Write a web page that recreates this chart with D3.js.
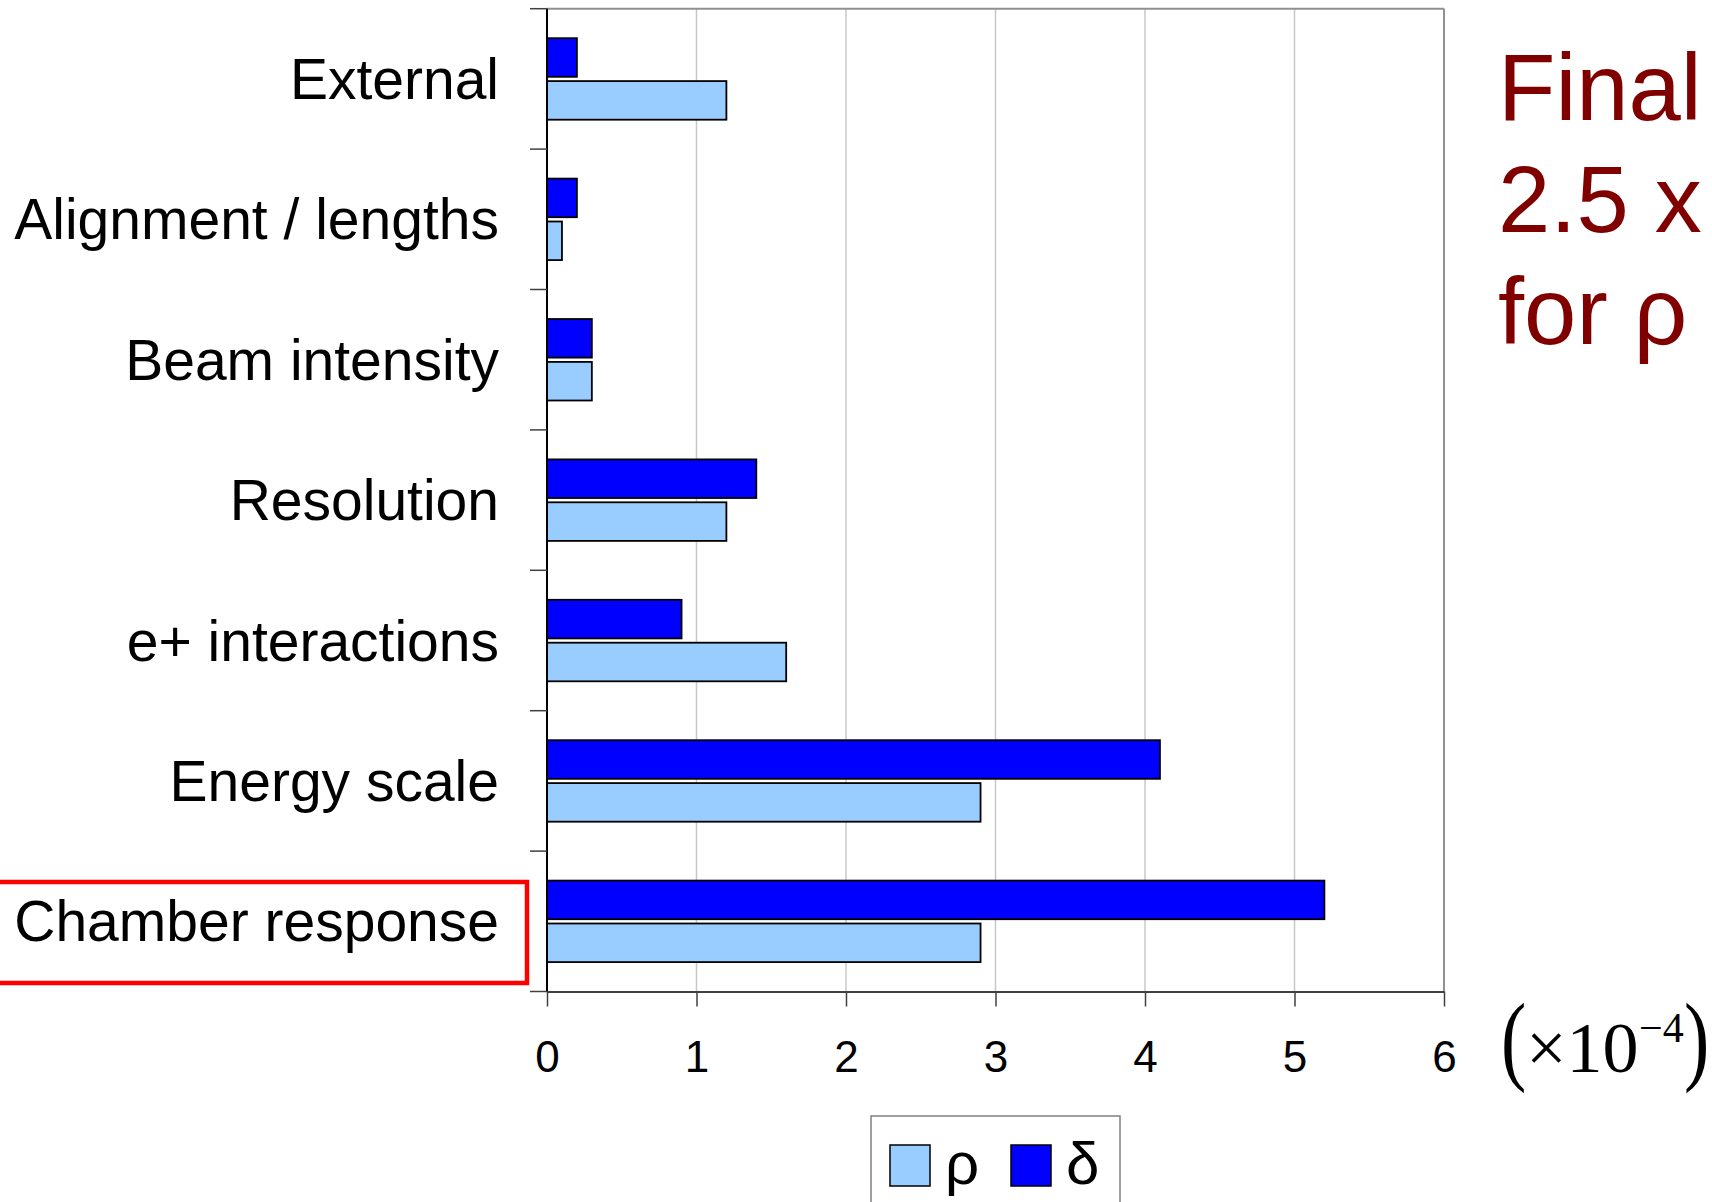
<!DOCTYPE html>
<html>
<head>
<meta charset="utf-8">
<script src="https://cdn.jsdelivr.net/npm/d3@7"></script>
<style>
  html, body { margin: 0; padding: 0; background: #fff; }
  svg { display: block; }
  text { font-family: "Liberation Sans", Arial, sans-serif; }
  text.serif { font-family: "Liberation Serif", "Times New Roman", serif; }
</style>
</head>
<body>
<svg id="chart" width="1712" height="1202"></svg>
<script>
// categories, top to bottom
const categories = ["External", "Alignment / lengths", "Beam intensity", "Resolution",
                    "e+ interactions", "Energy scale", "Chamber response"];
// systematic errors, units of 1e-4
const deltaVals = [0.2, 0.2, 0.3, 1.4, 0.9, 4.1, 5.2];
const rhoVals   = [1.2, 0.1, 0.3, 1.2, 1.6, 2.9, 2.9];
const xTicks = [0, 1, 2, 3, 4, 5, 6];
const sideNote = ["Final", "2.5 x", "for ρ"];

const svg = d3.select("#chart");

const x = d3.scaleLinear().domain([0, 6]).range([547, 1444]);
const y = d3.scaleBand().domain(categories).range([8.7, 991.5]).paddingInner(0).paddingOuter(0);
const sub = d3.scaleBand().domain(["δ", "ρ"]).range([29.5, 111]).paddingInner(0.1);

const colors = { "ρ": "#99ccff", "δ": "#0000ff" };

const rows = categories.map((c, i) => ({ cat: c, "δ": deltaVals[i], "ρ": rhoVals[i] }));

// grid lines
svg.append("g").selectAll("line")
  .data(xTicks.filter(d => d > 0 && d < 6))
  .join("line")
  .attr("x1", d => x(d)).attr("x2", d => x(d))
  .attr("y1", y.range()[0]).attr("y2", y.range()[1])
  .attr("stroke", "#c8c8c8").attr("stroke-width", 1.5);

// frame top / right
svg.append("line")
  .attr("x1", x(0)).attr("x2", x(6)).attr("y1", y.range()[0]).attr("y2", y.range()[0])
  .attr("stroke", "#909090").attr("stroke-width", 2);
svg.append("line")
  .attr("x1", x(6)).attr("x2", x(6)).attr("y1", y.range()[0]).attr("y2", y.range()[1])
  .attr("stroke", "#909090").attr("stroke-width", 2);

// bars
const groups = svg.append("g").selectAll("g")
  .data(rows)
  .join("g")
  .attr("transform", d => `translate(0,${y(d.cat)})`);

groups.selectAll("rect")
  .data(d => ["δ", "ρ"].map(k => ({ key: k, value: d[k] })))
  .join("rect")
  .attr("x", x(0))
  .attr("y", d => sub(d.key))
  .attr("width", d => x(d.value) - x(0))
  .attr("height", sub.bandwidth())
  .attr("fill", d => colors[d.key])
  .attr("stroke", "#000")
  .attr("stroke-width", 1.8);

// x axis
const xAxis = svg.append("g")
  .attr("transform", `translate(0,${y.range()[1]})`)
  .call(d3.axisBottom(x).tickValues(xTicks).tickFormat(d3.format("d"))
    .tickSize(15).tickSizeOuter(0).tickPadding(34));
xAxis.select(".domain").attr("stroke", "#404040").attr("stroke-width", 2);
xAxis.selectAll(".tick line").attr("stroke", "#404040").attr("stroke-width", 1.5);
xAxis.selectAll(".tick text")
  .attr("fill", "#000")
  .style("font-size", "44px");

// y axis line + boundary ticks
const yEdges = categories.map(c => y(c)).concat([y.range()[1]]);
svg.append("line")
  .attr("x1", x(0)).attr("x2", x(0))
  .attr("y1", y.range()[0]).attr("y2", y.range()[1])
  .attr("stroke", "#000").attr("stroke-width", 2);
svg.append("g").selectAll("line")
  .data(yEdges)
  .join("line")
  .attr("x1", x(0) - 17).attr("x2", x(0))
  .attr("y1", d => d).attr("y2", d => d)
  .attr("stroke", "#404040").attr("stroke-width", 1.5);

// category labels
svg.append("g").selectAll("text")
  .data(categories)
  .join("text")
  .attr("x", 499)
  .attr("y", d => y(d) + y.bandwidth() / 2 + 20)
  .attr("text-anchor", "end")
  .attr("font-size", 57)
  .attr("fill", "#000")
  .text(d => d);

// highlight box round the last category
svg.append("rect")
  .attr("x", -10).attr("y", 882)
  .attr("width", 537).attr("height", 101)
  .attr("fill", "none").attr("stroke", "#ff0000").attr("stroke-width", 4.5);

// axis unit (×10^-4)
const unit = svg.append("g");
unit.append("text").attr("class", "serif")
  .attr("transform", "translate(1501,1072) scale(1,1.32)")
  .attr("font-size", 76)
  .text("(");
unit.append("text").attr("class", "serif")
  .attr("x", 1526).attr("y", 1072)
  .attr("font-size", 72)
  .text("×10");
unit.append("text").attr("class", "serif")
  .attr("x", 1639).attr("y", 1042)
  .attr("font-size", 42)
  .text("−4");
unit.append("text").attr("class", "serif")
  .attr("transform", "translate(1684,1072) scale(1,1.32)")
  .attr("font-size", 76)
  .text(")");

// legend
const legend = svg.append("g");
legend.append("rect")
  .attr("x", 871).attr("y", 1116).attr("width", 249).attr("height", 120)
  .attr("fill", "#fff").attr("stroke", "#808080").attr("stroke-width", 1.5);
const legendKeys = ["ρ", "δ"];
const legX = d3.scalePoint().domain(legendKeys).range([890, 1011]);
legend.selectAll("rect.sw")
  .data(legendKeys)
  .join("rect")
  .attr("class", "sw")
  .attr("x", d => legX(d)).attr("y", 1145)
  .attr("width", 40).attr("height", 41)
  .attr("fill", d => colors[d]).attr("stroke", "#000").attr("stroke-width", 1.5);
legend.selectAll("text")
  .data(legendKeys)
  .join("text")
  .attr("x", d => legX(d) + 55).attr("y", 1184)
  .attr("font-size", 60).attr("fill", "#000")
  .text(d => d);

// side note
svg.append("g").selectAll("text")
  .data(sideNote)
  .join("text")
  .attr("x", 1498)
  .attr("y", (d, i) => 120 + i * 112)
  .attr("font-size", 94)
  .attr("fill", "#800000")
  .text(d => d);
</script>
</body>
</html>
